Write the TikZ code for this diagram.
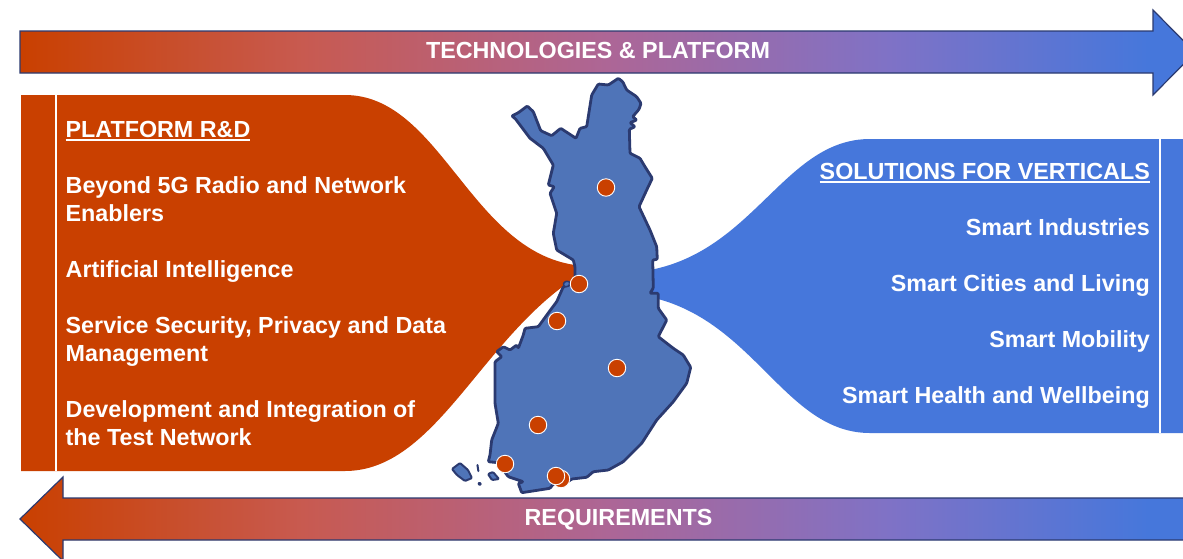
\documentclass[tikz,border=0pt]{standalone}
\usepackage{fontspec}
\setmainfont{Liberation Sans}
\newcommand{\headline}[1]{\setbox0=\hbox{#1}\rlap{\rule[-3.8pt]{\wd0}{2pt}}\box0}
\definecolor{platformorange}{HTML}{C94000}
\definecolor{verticalblue}{HTML}{4677DB}
\definecolor{mapblue}{HTML}{4F74B8}
\definecolor{mapline}{HTML}{2B3A70}
\definecolor{gradone}{HTML}{C85A50}
\definecolor{gradtwo}{HTML}{AD6696}
\definecolor{gradthree}{HTML}{7F72C6}
\pgfdeclarehorizontalshading{orangeblue}{100bp}{
	color(0bp)=(platformorange);
	color(25bp)=(platformorange);
	color(37bp)=(gradone);
	color(50bp)=(gradtwo);
	color(62bp)=(gradthree);
	color(73bp)=(verticalblue);
	color(100bp)=(verticalblue)
}
\tikzset{
	bigarrow/.style={draw=mapline, line width=1.2pt, shading=orangeblue},
	whitebar/.style={draw=white, line width=2.2pt},
	listtext/.style={inner sep=0pt, text=white, font=\fontsize{23.3}{28}\selectfont\bfseries, align=left, anchor=base west},
	righttext/.style={inner sep=0pt, text=white, font=\fontsize{23.3}{28}\selectfont\bfseries, align=right, anchor=base east},
	arrowtext/.style={inner sep=0pt, text=white, font=\fontsize{23.3}{28}\selectfont\bfseries, anchor=base},
	citydot/.style={circle, fill=platformorange, draw=white, line width=0.9pt, minimum size=17.5pt, inner sep=0pt},
	finland/.style={fill=mapblue, draw=mapline, line width=2.8pt, line join=round, rounded corners=1pt}
}
\begin{document}
\begin{tikzpicture}[x=1pt, y=-1pt]
	\clip (0,0) rectangle (1183,558);
	\fill[white] (0,0) rectangle (1183,558);

	% arrows
	\path[bigarrow] (20,31) -- (1153,31) -- (1153,10) -- (1195,52.5) -- (1153,95) -- (1153,73) -- (20,73) -- cycle;
	\path[bigarrow] (1195,498) -- (63,498) -- (63,477) -- (20,519) -- (63,561) -- (63,540) -- (1195,540) -- cycle;
	\node[arrowtext](topname) at (598,58){TECHNOLOGIES \& PLATFORM};
	\node[arrowtext](bottomname) at (618.5,525){REQUIREMENTS};

	% wings
	\fill[platformorange] (21,95) -- (345,95) .. controls (440,95) and (470,250) .. (575,265)
		-- (575,278) .. controls (480,340) and (435,471) .. (345,471) -- (21,471) -- cycle;
	\fill[verticalblue] (1183,139) -- (870,139) .. controls (785,139) and (755,250) .. (650,270)
		-- (650,297) .. controls (755,320) and (785,433) .. (870,433) -- (1183,433) -- cycle;
	\draw[whitebar] (56,95) -- (56,471);
	\draw[whitebar] (1160,139) -- (1160,433);

	% map
	\draw[finland] (618.3,78.3) -- (622.7,81.7) -- (626.7,90) -- (636.7,96.7) -- (641,103.3) -- (639,109.3) -- (632.7,116.7)
		-- (636.7,120) -- (630,122.7) -- (635,126.7) -- (629.3,129.3) -- (630,153.3) -- (640,158.3) -- (645,166.7) -- (652.3,178.3)
		-- (646.7,190) -- (639,206.7) -- (650,230) -- (656.7,246.7) -- (657.3,259.3) -- (652.7,260) -- (653.3,288) -- (650,293.3)
		-- (658.3,293.3) -- (658.3,308.3) -- (666.7,320) -- (658.3,336.7) -- (673.3,348.3) -- (683.3,355) -- (690.7,367.3)
		-- (686.7,383.3) -- (673.3,401.7) -- (656.7,420) -- (641.7,443.3) -- (623.3,461.7) -- (608.3,470) -- (593.3,471.7)
		-- (586.7,477.3) -- (571.7,479) -- (563.3,485) -- (553.3,484) -- (550,488.3) -- (521.7,492.7) -- (518.3,483.3)
		-- (523.3,481.7) -- (508.3,476.7) -- (503.3,470) -- (498.3,462.7) -- (488.3,461.7) -- (490,455) -- (491.7,440)
		-- (498.3,423.3) -- (495,403.3) -- (495,373.3) -- (495,361.7) -- (501.7,356.7) -- (496.7,351.7) -- (503.3,346.7)
		-- (510,350) -- (516.7,345) -- (518.3,348.3) -- (523.3,335) -- (525,328.3) -- (538.3,326.7) -- (551.7,308.3)
		-- (556.7,301.7) -- (563.3,286.7) -- (575,283) -- (575,267) -- (573.3,260) -- (556.7,250) -- (553.3,233.3) -- (556.7,213.3)
		-- (550,193.3) -- (554.3,186.7) -- (548.3,185) -- (553.3,165) -- (543.3,148.3) -- (530,138.3) -- (515,118.3)
		-- (511.7,116) -- (518.3,112.7) -- (527.3,106) -- (533.3,111.7) -- (540.7,130.7) -- (551.7,135.7) -- (560.7,128.3)
		-- (576,138.3) -- (580,128.3) -- (586.7,126.7) -- (591.7,95) -- (598.3,84) -- (608.3,85) -- cycle;
	\draw[finland, line width=2pt] (452,469) -- (460,463) -- (468,470) -- (472,478) -- (465,481) -- (457,475) -- cycle;
	\draw[finland, line width=2pt] (477.3,464) -- (478.5,472) -- cycle;
	\draw[finland, line width=2pt] (488,474) -- (493,472) -- (499,479) -- (492,480) -- cycle;
	\draw[finland, line width=2pt] (478,483) -- (481,483) -- (480,485.5) -- cycle;
	\draw[finland, line width=1.5pt] (563,284) -- (566,281) -- (570,282) -- (569,286) -- (565,287) -- cycle;

	% cities
	\node[citydot](oulu) at (606,187.5){};
	\node[citydot](kokkola) at (579,284){};
	\node[citydot](vaasa) at (557,321){};
	\node[citydot](kuopio) at (617,368){};
	\node[citydot](tampere) at (538,425){};
	\node[citydot](turku) at (505,464){};
	\node[citydot](espoo) at (561,479){};
	\node[citydot](helsinki) at (556,476){};

	% left text
	\node[listtext](platformhead) at (65.5,137.5){\headline{PLATFORM R\&D}};
	\node[listtext](radiotext) at (65.5,221.5){Beyond 5G Radio and Network\\Enablers};
	\node[listtext](aitext) at (65.5,277.5){Artificial Intelligence};
	\node[listtext](securitytext) at (65.5,361.5){Service Security, Privacy and Data\\Management};
	\node[listtext](testnettext) at (65.5,445.5){Development and Integration of\\the Test Network};

	% right text
	\node[righttext](verticalhead) at (1150,179.5){\headline{SOLUTIONS FOR VERTICALS}};
	\node[righttext](industrytext) at (1150,235.5){Smart Industries};
	\node[righttext](citytext) at (1150,291.5){Smart Cities and Living};
	\node[righttext](mobilitytext) at (1150,347.5){Smart Mobility};
	\node[righttext](healthtext) at (1150,403.5){Smart Health and Wellbeing};
\end{tikzpicture}
\end{document}
